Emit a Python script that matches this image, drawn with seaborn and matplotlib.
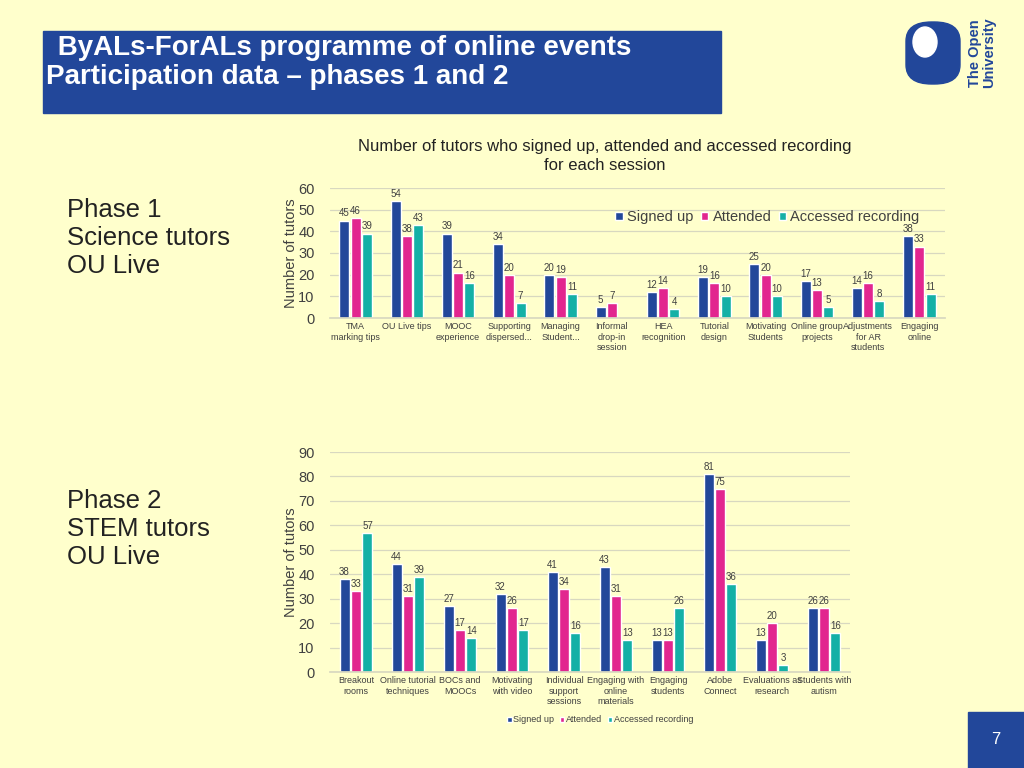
import matplotlib.pyplot as plt
import matplotlib.patches as mpatches
import pandas as pd
import seaborn as sns

# phase 1 data
p1_sessions = ["TMA\nmarking tips", "OU Live tips", "MOOC\nexperience", "Supporting\ndispersed...",
               "Managing\nStudent...", "Informal\ndrop-in\nsession", "HEA\nrecognition", "Tutorial\ndesign",
               "Motivating\nStudents", "Online group\nprojects", "Adjustments\nfor AR\nstudents", "Engaging\nonline"]
p1_signed = [45, 54, 39, 34, 20, 5, 12, 19, 25, 17, 14, 38]
p1_attended = [46, 38, 21, 20, 19, 7, 14, 16, 20, 13, 16, 33]
p1_recording = [39, 43, 16, 7, 11, 0, 4, 10, 10, 5, 8, 11]

# phase 2 data
p2_sessions = ["Breakout\nrooms", "Online tutorial\ntechniques", "BOCs and\nMOOCs", "Motivating\nwith video",
               "Individual\nsupport\nsessions", "Engaging with\nonline\nmaterials", "Engaging\nstudents",
               "Adobe\nConnect", "Evaluations as\nresearch", "Students with\nautism"]
p2_signed = [38, 44, 27, 32, 41, 43, 13, 81, 13, 26]
p2_attended = [33, 31, 17, 26, 34, 31, 13, 75, 20, 26]
p2_recording = [57, 39, 14, 17, 16, 13, 26, 36, 3, 16]

series = ["Signed up", "Attended", "Accessed recording"]
colors = ["#22479A", "#E2268F", "#14B0A6"]
bg = "#FFFFCC"

sns.set_theme(style="white")
plt.rcParams["font.family"] = ["Liberation Sans", "DejaVu Sans"]


def long_df(sessions, signed, attended, recording):
    rows = []
    for name, vals in zip(series, [signed, attended, recording]):
        for s, v in zip(sessions, vals):
            rows.append({"session": s, "series": name, "value": v})
    return pd.DataFrame(rows)


def draw(ax, df, ymax, step):
    sns.barplot(data=df, x="session", y="value", hue="series", palette=colors, saturation=1,
                width=0.66, gap=0.12, ax=ax, legend=True)
    ax.set_facecolor(bg)
    ax.set_ylim(0, ymax)
    ax.set_yticks(range(0, ymax + 1, step))
    ax.yaxis.grid(True, color="#D8D8C0", linewidth=0.9)
    ax.set_axisbelow(True)
    for sp in ["top", "right", "left"]:
        ax.spines[sp].set_visible(False)
    ax.spines["bottom"].set_color("#D8D8C0")
    ax.set_xlabel("")
    ax.set_ylabel("Number of tutors", fontsize=10.5, color="#404040", labelpad=0)
    ax.tick_params(axis="y", labelsize=10.5, labelcolor="#404040", length=0, pad=11)
    ax.tick_params(axis="x", labelsize=6.5, labelcolor="#404040", length=0, pad=3)
    for c in ax.containers:
        labs = [str(int(v)) if v > 0 else "" for v in c.datavalues]
        ax.bar_label(c, labels=labs, fontsize=7, color="#404040", padding=1.5)


fig = plt.figure(figsize=(10.24, 7.68), dpi=100)
fig.patch.set_facecolor(bg)

# header box
fig.patches.append(mpatches.Rectangle((43 / 1024, 1 - 113 / 768), 678 / 1024, 82 / 768,
                                      transform=fig.transFigure, color="#22479A", zorder=0))
fig.text(50 / 1024, 1 - 48 / 768, " ByALs-ForALs programme of online events", color="white",
         fontsize=20, fontweight="bold", va="center")
fig.text(46 / 1024, 1 - 77 / 768, "Participation data \u2013 phases 1 and 2", color="white",
         fontsize=20, fontweight="bold", va="center")

# logo
fig.patches.append(mpatches.FancyBboxPatch((906 / 1024, 1 - 84 / 768), 54 / 1024, 62 / 768,
                                           boxstyle="round,pad=0,rounding_size=0.025",
                                           transform=fig.transFigure, color="#22479A"))
fig.patches.append(mpatches.Ellipse((925 / 1024, 1 - 42 / 768), 24 / 1024, 30 / 768,
                                    transform=fig.transFigure, color="white"))
fig.text(982 / 1024, 1 - 53 / 768, "The Open\nUniversity", rotation=90, fontsize=10.5,
         fontweight="bold", color="#22479A", va="center", ha="center", linespacing=0.95)

# page number
fig.patches.append(mpatches.Rectangle((968 / 1024, 0), 56 / 1024, 56 / 768,
                                      transform=fig.transFigure, color="#22479A"))
fig.text(996 / 1024, 1 - 740 / 768, "7", color="white", fontsize=12, ha="center", va="center")

# side text
fig.text(67 / 1024, 1 - 238 / 768, "Phase 1\nScience tutors\nOU Live", fontsize=18.5,
         color="#222222", va="center", linespacing=1.2)
fig.text(67 / 1024, 1 - 529 / 768, "Phase 2\nSTEM tutors\nOU Live", fontsize=18.5,
         color="#222222", va="center", linespacing=1.2)

# top chart
ax1 = fig.add_axes([330 / 1024, 1 - 318 / 768, 615 / 1024, 130 / 768])
draw(ax1, long_df(p1_sessions, p1_signed, p1_attended, p1_recording), 60, 10)
fig.text(605 / 1024, 1 - 156 / 768, "Number of tutors who signed up, attended and accessed recording\nfor each session",
         fontsize=12, color="#222222", ha="center", va="center", linespacing=1.4)
ax1.legend(loc="upper right", bbox_to_anchor=(0.98, 0.93), ncol=3, frameon=False,
           fontsize=10.5, handlelength=0.5, handleheight=0.5, handletextpad=0.3,
           columnspacing=0.5, labelcolor="#404040")

# bottom chart
ax2 = fig.add_axes([330 / 1024, 1 - 672 / 768, 520 / 1024, 220 / 768])
draw(ax2, long_df(p2_sessions, p2_signed, p2_attended, p2_recording), 90, 10)
ax2.legend(loc="upper center", bbox_to_anchor=(0.52, -0.16), ncol=3, frameon=False,
           fontsize=6.5, handlelength=0.5, handleheight=0.5, handletextpad=0.2,
           columnspacing=0.6, labelcolor="#404040")

fig.savefig("out.png", dpi=100, facecolor=bg)
